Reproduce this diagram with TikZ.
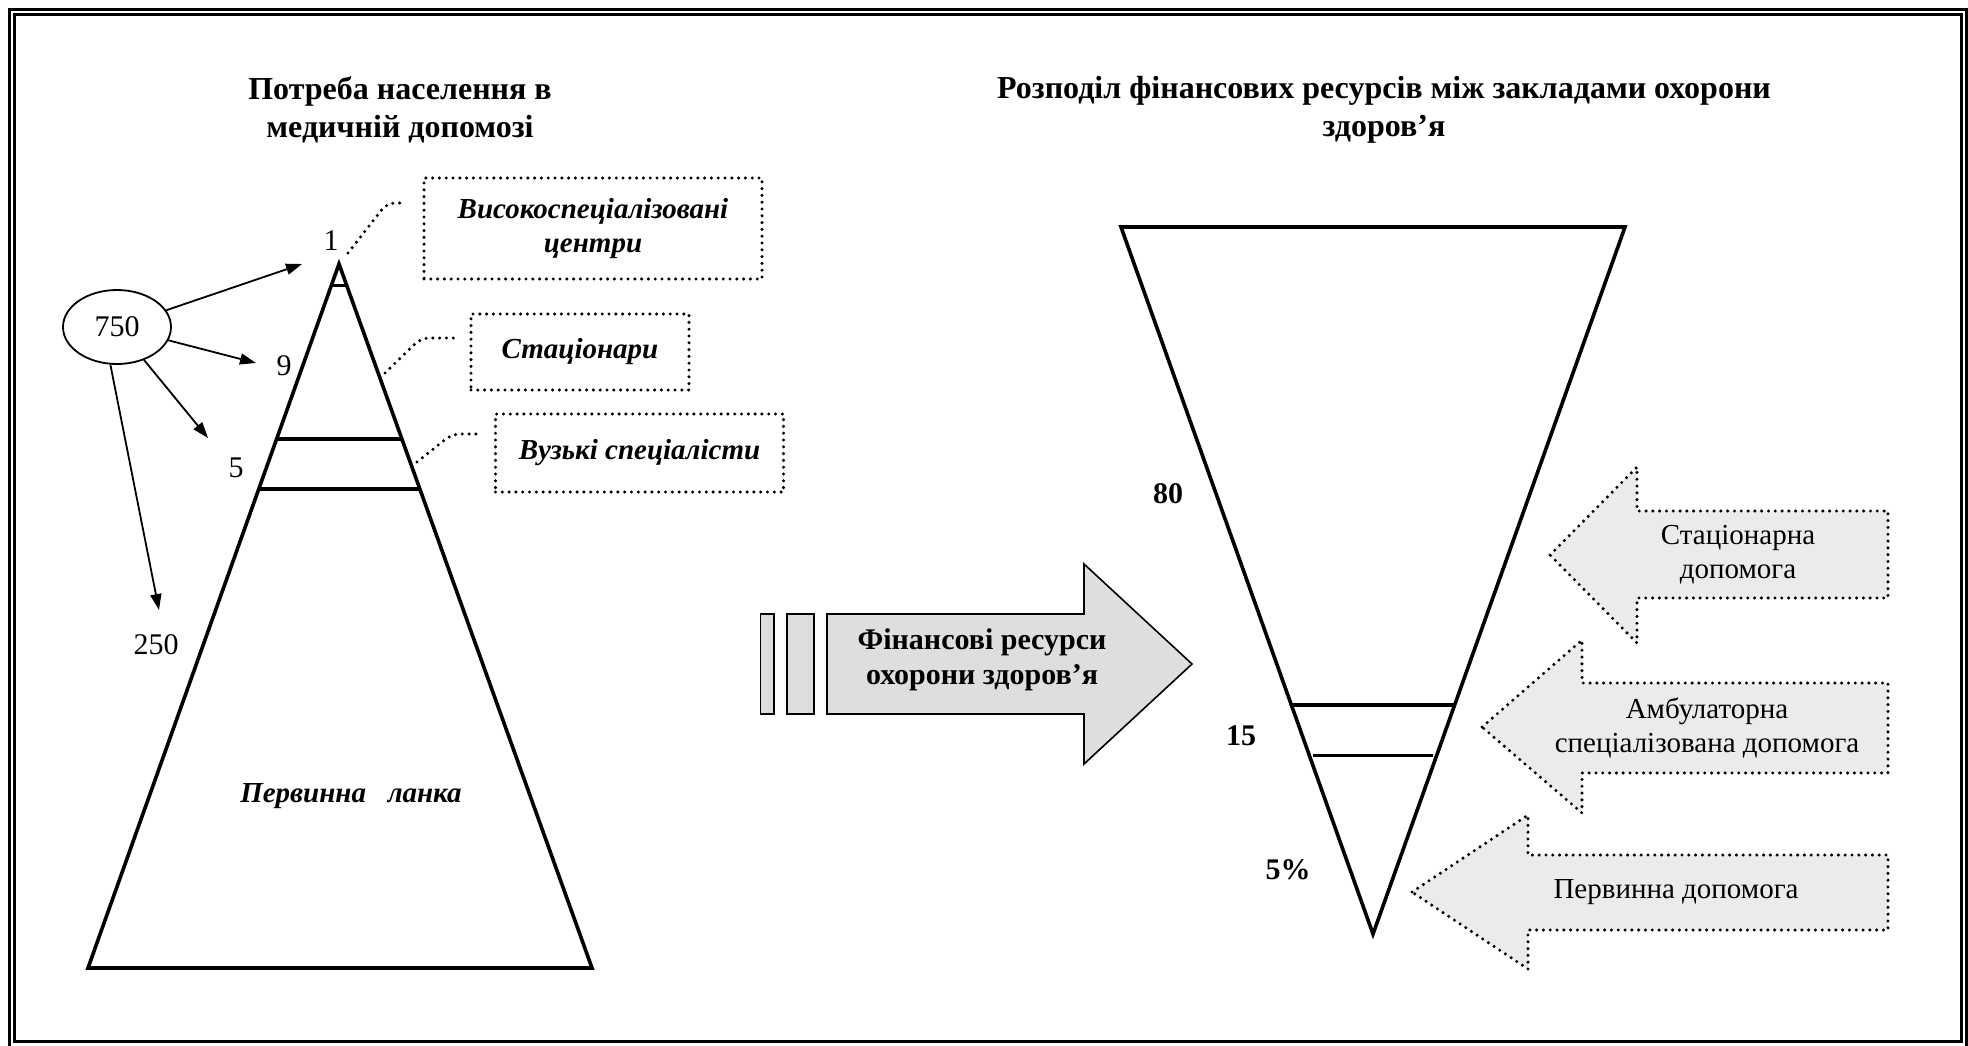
\documentclass[tikz,border=0pt]{standalone}
\usepackage{fontspec}
\setmainfont{Liberation Serif}
\usetikzlibrary{arrows.meta,calc,shapes.geometric}
\tikzset{
  frameline/.style={line width=1.5pt},
  pyr/.style={line width=1.8pt, line join=miter},
  level/.style={line width=1.6pt},
  dotline/.style={line width=1.7pt, line cap=round, dash pattern=on 0pt off 3.4pt},
  dotbox/.style={dotline, draw, align=center, inner sep=0pt, font=\fontsize{14.5}{17}\selectfont\bfseries\itshape},
  ttl/.style={align=center, inner sep=0pt, font=\fontsize{16}{19}\selectfont\bfseries},
  num/.style={inner sep=0pt, font=\fontsize{15}{17}\selectfont},
  bnum/.style={inner sep=0pt, font=\fontsize{15}{17}\selectfont\bfseries},
  total/.style={draw, ellipse, line width=0.9pt, inner sep=0pt, minimum width=54pt, minimum height=37pt, font=\fontsize{15}{17}\selectfont},
  feed/.style={line width=0.9pt, -{Triangle[length=8pt,width=5.5pt]}},
  resarrow/.style={draw, line width=0.8pt, fill=black!13, line join=miter},
  helparrow/.style={dotline, draw, fill=black!8},
  helptext/.style={align=center, inner sep=0pt, font=\fontsize{14.5}{17}\selectfont}
}

\begin{document}
\begin{tikzpicture}[x=0.5pt, y=-0.5pt]
  \useasboundingbox (0,0) rectangle (1968,1045);
  \draw[frameline] (9.5,9.5) rectangle (1966.5,1047.5);
  \draw[frameline] (14.5,14.5) rectangle (1961.5,1041);

  % titles
  \node[ttl] (ltitle) at (400,110) {Потреба населення в\\медичній допомозі};
  \node[ttl] (rtitle) at (1384,110) {Розподіл фінансових ресурсів між закладами охорони\\здоров’я};

  % pyramid of needs
  \coordinate (lapex) at (339,264);
  \coordinate (lbl) at (88,968);
  \coordinate (lbr) at (592,968);
  \draw[pyr] (lapex) -- (lbl) -- (lbr) -- cycle;
  \draw[level] ($(lapex)!0.031!(lbl)$) -- ($(lapex)!0.031!(lbr)$);
  \draw[level] ($(lapex)!0.2486!(lbl)$) -- ($(lapex)!0.2486!(lbr)$);
  \draw[level] ($(lapex)!0.3196!(lbl)$) -- ($(lapex)!0.3196!(lbr)$);
  \node[font=\fontsize{14.5}{17}\selectfont\bfseries\itshape] (prim) at (351,796) {Первинна\ \ \ ланка};

  \node[num] (n1) at (331,241) {1};
  \node[num] (n9) at (284,366) {9};
  \node[num] (n5) at (236,468) {5};
  \node[num] (n250) at (156,645) {250};

  \node[total] (e750) at (117,327) {750};
  \coordinate (t1) at (302,264);
  \coordinate (t9) at (256,363);
  \coordinate (t5) at (208,438);
  \coordinate (t250) at (159,610);
  \draw[feed] (e750) -- (t1);
  \draw[feed] (e750) -- (t9);
  \draw[feed] (e750) -- (t5);
  \draw[feed] (e750.260) -- (t250);

  \node[dotbox, minimum width=169pt, minimum height=50.5pt] (boxA) at (593,228.5) {Високоспеціалізовані\\центри};
  \node[dotbox, minimum width=109pt, minimum height=38pt] (boxB) at (580,352) {Стаціонари};
  \node[dotbox, minimum width=144pt, minimum height=39pt] (boxC) at (639.5,453) {Вузькі спеціалісти};

  \coordinate (k1) at (348,253);
  \coordinate (c1) at (406,203);
  \coordinate (k2) at (385,373);
  \coordinate (c2) at (455,338);
  \coordinate (k3) at (417,462);
  \coordinate (c3) at (477,434);
  \draw[dotline, rounded corners=4pt] (k1) -- (387,203) -- (c1);
  \draw[dotline, rounded corners=4pt] (k2) -- (421,338) -- (c2);
  \draw[dotline, rounded corners=4pt] (k3) -- (452,434) -- (c3);

  % resources arrow
  \draw[resarrow] (760.5,614) rectangle (774,714);
  \draw[resarrow] (787,614) rectangle (814,714);
  \draw[resarrow] (827,614) -- (1084,614) -- (1084,564) -- (1192,664) -- (1084,764) -- (1084,714) -- (827,714) -- cycle;
  \node[align=center, inner sep=0pt, font=\fontsize{15}{17.5}\selectfont\bfseries] (res) at (982,660) {Фінансові ресурси\\охорони здоров’я};

  % distribution
  \coordinate (rtl) at (1121,227);
  \coordinate (rtr) at (1625,227);
  \coordinate (rapex) at (1373,934);
  \draw[pyr] (rtl) -- (rtr) -- (rapex) -- cycle;
  \draw[level] ($(rtl)!0.676!(rapex)$) -- ($(rtr)!0.676!(rapex)$);
  \draw[level, shorten <=2pt, shorten >=2pt] ($(rtl)!0.747!(rapex)$) -- ($(rtr)!0.747!(rapex)$);

  \node[bnum] (p80) at (1168,494) {80};
  \node[bnum] (p15) at (1241,736) {15};
  \node[bnum] (p5) at (1288,870) {5\%};

  \draw[helparrow] (1550,555) -- (1637,467) -- (1637,511) -- (1888,511) -- (1888,598) -- (1637,598) -- (1637,643) -- cycle;
  \draw[helparrow] (1482,727) -- (1582,640) -- (1582,683) -- (1888,683) -- (1888,773) -- (1582,773) -- (1582,813) -- cycle;
  \draw[helparrow] (1412,892) -- (1528,815) -- (1528,855) -- (1888,855) -- (1888,930) -- (1528,930) -- (1528,969) -- cycle;
  \node[helptext] (hstat) at (1738,555) {Стаціонарна\\допомога};
  \node[helptext] (hamb) at (1707,728) {Амбулаторна\\спеціалізована допомога};
  \node[helptext] (hprim) at (1676,892) {Первинна допомога};
\end{tikzpicture}
\end{document}
